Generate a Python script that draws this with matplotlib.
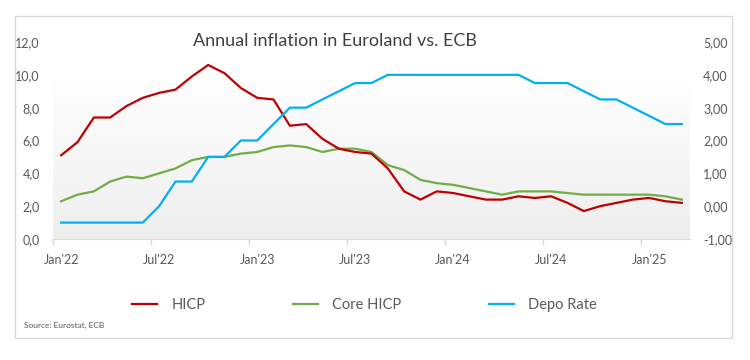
# -*- coding: utf-8 -*-
"""
Annual inflation in Euroland vs. ECB deposit rate, monthly Jan'22 - Mar'25.
HICP and core HICP on the left axis (%), depo rate on the right axis (%).
"""
import numpy as np
import matplotlib.pyplot as plt
from matplotlib.colors import LinearSegmentedColormap
from matplotlib.patches import Rectangle

# data (monthly, Jan 2022 .. Mar 2025)
months = ["Jan'22", "Feb'22", "Mar'22", "Apr'22", "May'22", "Jun'22",
          "Jul'22", "Aug'22", "Sep'22", "Oct'22", "Nov'22", "Dec'22",
          "Jan'23", "Feb'23", "Mar'23", "Apr'23", "May'23", "Jun'23",
          "Jul'23", "Aug'23", "Sep'23", "Oct'23", "Nov'23", "Dec'23",
          "Jan'24", "Feb'24", "Mar'24", "Apr'24", "May'24", "Jun'24",
          "Jul'24", "Aug'24", "Sep'24", "Oct'24", "Nov'24", "Dec'24",
          "Jan'25", "Feb'25", "Mar'25"]

hicp = [5.1, 5.9, 7.4, 7.4, 8.1, 8.6, 8.9, 9.1, 9.9, 10.6, 10.1, 9.2,
        8.6, 8.5, 6.9, 7.0, 6.1, 5.5, 5.3, 5.2, 4.3, 2.9, 2.4, 2.9,
        2.8, 2.6, 2.4, 2.4, 2.6, 2.5, 2.6, 2.2, 1.7, 2.0, 2.2, 2.4,
        2.5, 2.3, 2.2]

core_hicp = [2.3, 2.7, 2.9, 3.5, 3.8, 3.7, 4.0, 4.3, 4.8, 5.0, 5.0, 5.2,
             5.3, 5.6, 5.7, 5.6, 5.3, 5.5, 5.5, 5.3, 4.5, 4.2, 3.6, 3.4,
             3.3, 3.1, 2.9, 2.7, 2.9, 2.9, 2.9, 2.8, 2.7, 2.7, 2.7, 2.7,
             2.7, 2.6, 2.4]

depo_rate = [-0.5, -0.5, -0.5, -0.5, -0.5, -0.5, 0.0, 0.75, 0.75, 1.5, 1.5, 2.0,
             2.0, 2.5, 3.0, 3.0, 3.25, 3.5, 3.75, 3.75, 4.0, 4.0, 4.0, 4.0,
             4.0, 4.0, 4.0, 4.0, 4.0, 3.75, 3.75, 3.75, 3.5, 3.25, 3.25, 3.0,
             2.75, 2.5, 2.5]

left_ticks = [0, 2, 4, 6, 8, 10, 12]
right_ticks = [-1, 0, 1, 2, 3, 4, 5]

# colours
red = '#C00000'
green = '#70AD47'
blue = '#00B0F0'
text_grey = '#595959'
line_grey = '#D9D9D9'

plt.rcParams['font.family'] = ['Lato', 'DejaVu Sans']

x = np.arange(len(months))

fig = plt.figure(figsize=(7.5, 3.6), dpi=100)

# light grey frame around the chart
fig.patches.append(Rectangle((15 / 750, 1 - 338 / 360), (732 - 15) / 750, (338 - 16) / 360,
                             transform=fig.transFigure, fill=False,
                             edgecolor=line_grey, linewidth=1.0))

ax = fig.add_axes([53 / 750, 1 - 239 / 360, (690 - 53) / 750, (239 - 42) / 360])
ax.set_facecolor('none')

# plot area gradient, white at the top to light grey at the bottom
grad = np.linspace(0, 1, 256).reshape(-1, 1)
cmap = LinearSegmentedColormap.from_list('bg', ['#EEEEEE', '#FFFFFF'])
ax.imshow(grad, cmap=cmap, aspect='auto', origin='lower',
          extent=[0, 1, 0, (239 - 77) / (239 - 42)], transform=ax.transAxes, zorder=0)

l1, = ax.plot(x, hicp, color=red, lw=1.6, label='HICP', zorder=3)
l2, = ax.plot(x, core_hicp, color=green, lw=1.6, label='Core HICP', zorder=2)

ax.set_xlim(-0.5, len(months) - 0.5)
ax.set_ylim(0, 12)
ax.set_yticks(left_ticks)
ax.set_yticklabels(['{:.1f}'.format(v).replace('.', ',') for v in left_ticks])

label_pos = x[::6]
ax.set_xticks(label_pos)
ax.set_xticklabels([months[i] for i in label_pos])
ax.set_xticks(label_pos - 0.5, minor=True)
ax.tick_params(axis='x', which='major', length=0, pad=11, labelsize=9, labelcolor=text_grey)
ax.tick_params(axis='x', which='minor', length=4, color=line_grey, width=1)
ax.tick_params(axis='y', length=0, pad=9.5, labelsize=9, labelcolor=text_grey)

for side in ['top', 'left', 'right']:
    ax.spines[side].set_visible(False)
ax.spines['bottom'].set_color(line_grey)

ax2 = ax.twinx()
l3, = ax2.plot(x, depo_rate, color=blue, lw=1.6, label='Depo Rate', zorder=4)
ax2.set_ylim(-1, 5)
ax2.set_yticks(right_ticks)
ax2.set_yticklabels(['{:.2f}'.format(v).replace('.', ',') for v in right_ticks])
ax2.tick_params(axis='y', length=0, pad=9.5, labelsize=9, labelcolor=text_grey)
for side in ['top', 'left', 'right', 'bottom']:
    ax2.spines[side].set_visible(False)

fig.text(193 / 750, 1 - 41 / 360, 'Annual inflation in Euroland vs. ECB',
         ha='left', va='center', fontsize=13, color='#404040')

fig.legend(handles=[l1, l2, l3], loc='center left', bbox_to_anchor=(132 / 750, 1 - 305 / 360),
           ncol=3, frameon=False, fontsize=10.5, labelcolor=text_grey,
           handlelength=1.7, handletextpad=1.0, columnspacing=6.0,
           borderpad=0, borderaxespad=0)

fig.text(24 / 750, 1 - 325 / 360, 'Source: Eurostat, ECB', ha='left', va='center',
         fontsize=6, color=text_grey)

plt.savefig('out.png', dpi=100)
